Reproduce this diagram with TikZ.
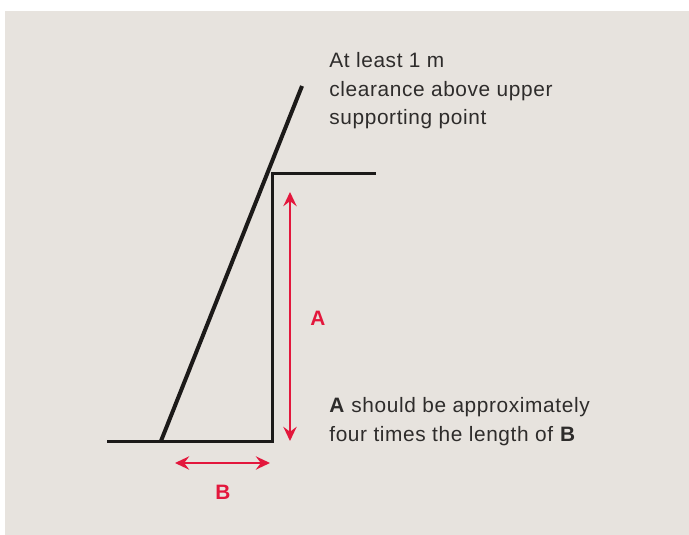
\documentclass[tikz,border=0pt]{standalone}
\usepackage{fontspec}
\setmainfont{Liberation Sans}[LetterSpace=3]
\usetikzlibrary{arrows.meta, positioning}
\definecolor{fondoPapel}{HTML}{E7E3DE}
\definecolor{rojoCota}{HTML}{E3173C}
\definecolor{negroLinea}{HTML}{1C1A19}
\definecolor{grisTexto}{HTML}{2E2C2B}

\begin{document}
\begin{tikzpicture}[x=0.6pt, y=-0.6pt,
        ladder/.style={draw=negroLinea, line width=2.4pt},
        wall/.style={draw=negroLinea, line width=1.8pt},
        dim/.style={{Stealth[length=8.5pt, width=8pt, inset=3pt]}-{Stealth[length=8.5pt, width=8pt, inset=3pt]}, draw=rojoCota, line width=1.1pt},
        dimlabel/.style={text=rojoCota, font=\bfseries\fontsize{12.5}{14}\selectfont, inner sep=0pt},
        note/.style={text=grisTexto, font=\fontsize{12.5}{17.2}\selectfont, align=left, anchor=north west, inner sep=0pt}
    ]
        \useasboundingbox (0,0) rectangle (689,535);
        \fill[fondoPapel] (5,11) rectangle (689,535);

        % wall, ledge and ground
        \coordinate (groundL) at (107,442);
        \coordinate (wallBase) at (272,442);
        \coordinate (wallTop) at (272,174);
        \coordinate (ledgeR) at (376,174);
        \draw[wall, line join=miter] (groundL) -- (wallBase) -- (wallTop) -- (ledgeR);

        % ladder
        \coordinate (ladderFoot) at (161,441);
        \coordinate (ladderTop) at (302,86);
        \draw[ladder] (ladderFoot) -- (ladderTop);

        % dimensions
        \coordinate (aTop) at (290,192);
        \coordinate (aBot) at (290,441);
        \coordinate (bL) at (175,463);
        \coordinate (bR) at (270,463);
        \draw[dim] (aTop) -- (aBot);
        \draw[dim] (bL) -- (bR);
        \node[dimlabel] (labA) at (318,318) {A};
        \node[dimlabel] (labB) at (223,492) {B};

        % notes
        \node[note] (clearance) at (329,52) {At least 1 m\\clearance above upper\\supporting point};
        \node[note] (ratio) at (329,397) {\textbf{A} should be approximately\\four times the length of \textbf{B}};
    \end{tikzpicture}
\end{document}
